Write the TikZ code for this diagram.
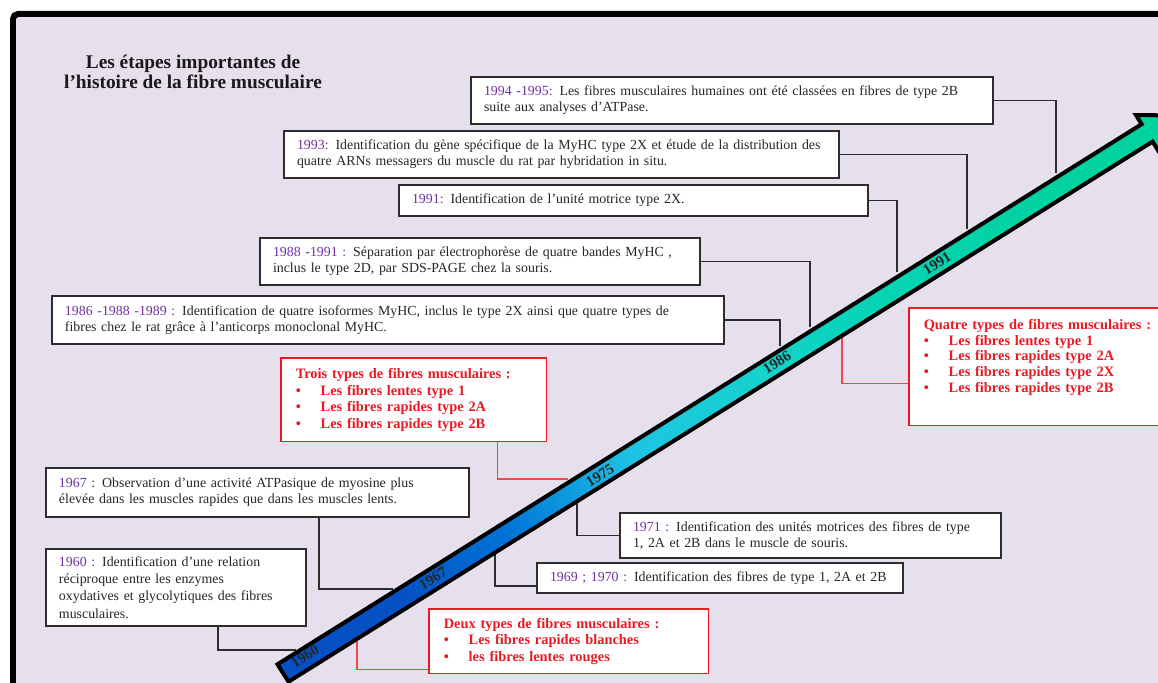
\documentclass[tikz,border=0pt]{standalone}
\usepackage{fontspec}
\setmainfont{Liberation Serif}

\definecolor{lavande}{RGB}{230,224,237}
\definecolor{yearviolet}{RGB}{112,48,160}
\definecolor{boxline}{RGB}{45,45,45}
\definecolor{fibrered}{RGB}{235,25,35}
\definecolor{tlblue}{RGB}{5,80,195}
\definecolor{tlmid}{RGB}{0,118,215}
\definecolor{tlcyan}{RGB}{30,196,228}
\definecolor{tlaqua}{RGB}{20,210,205}
\definecolor{tlteal}{RGB}{5,212,180}
\definecolor{tlgreen}{RGB}{0,210,160}

\pgfdeclarehorizontalshading{timeline}{100bp}{color(0bp)=(tlblue); color(25bp)=(tlblue); color(33.6bp)=(tlmid); color(42.9bp)=(tlcyan); color(52.7bp)=(tlaqua); color(61.5bp)=(tlteal); color(75bp)=(tlgreen); color(100bp)=(tlgreen)}

\begin{document}
\begin{tikzpicture}[x=0.02cm,y=-0.02cm]
                \tikzstyle{event}=[draw=boxline,line width=0.04cm,fill=white,anchor=north west,align=left,inner xsep=0.26cm,inner ysep=0pt,text=black!85,font=\fontsize{7.9}{9.2}\selectfont]
                \tikzstyle{fibres}=[draw=fibrered,line width=0.03cm,fill=white,anchor=north west,align=left,inner xsep=0.3cm,inner ysep=0pt,text=fibrered,font=\bfseries\fontsize{8.2}{9.4}\selectfont]
                \tikzstyle{year}=[rotate=32,text=black!85,font=\bfseries\fontsize{8.5}{10}\selectfont]
                \tikzstyle{link}=[draw=boxline,line width=0.035cm]
                \tikzstyle{redlink}=[draw=fibrered!80,line width=0.025cm]

                        \useasboundingbox (0,0) rectangle (1158,682);
                        \clip (0,0) rectangle (1158,682);
                        \draw[fill=lavande,line width=0.12cm,rounded corners=0.1cm] (13,14) rectangle (1200,720);

                        \node[font=\bfseries\fontsize{11}{11.4}\selectfont,align=center,text=black!90] (titre) at (193,72) {Les étapes importantes de\\l’histoire de la fibre musculaire};

                        \node[event,text width=9.92cm,minimum height=0.94cm] (E-1994) at (470,76) {\textcolor{yearviolet}{1994 -1995:} Les fibres musculaires humaines ont été classées en fibres de type 2B\\suite aux analyses d’ATPase.};
                        \node[event,text width=10.58cm,minimum height=0.94cm] (E-1993) at (283,130) {\textcolor{yearviolet}{1993:} Identification du gène spécifique de la MyHC type 2X et étude de la distribution des\\quatre ARNs messagers du muscle du rat par hybridation in situ.};
                        \node[event,text width=8.86cm,minimum height=0.62cm] (E-1991) at (398,184) {\textcolor{yearviolet}{1991:} Identification de l’unité motrice type 2X.};
                        \node[event,text width=8.28cm,minimum height=0.94cm] (E-1988) at (259,237) {\textcolor{yearviolet}{1988 -1991 :} Séparation par électrophorèse de quatre bandes MyHC ,\\inclus le type 2D, par SDS-PAGE chez la souris.};
                        \node[event,text width=12.92cm,minimum height=0.96cm] (E-1986) at (51,295) {\textcolor{yearviolet}{1986 -1988 -1989 :} Identification de quatre isoformes MyHC, inclus le type 2X ainsi que quatre types de\\fibres chez le rat grâce à l’anticorps monoclonal MyHC.};
                        \node[event,text width=7.94cm,minimum height=0.98cm] (E-1967) at (45,467) {\textcolor{yearviolet}{1967} : Observation d’une activité ATPasique de myosine plus\\élevée dans les muscles rapides que dans les muscles lents.};
                        \node[event,text width=4.68cm,minimum height=1.54cm,font=\fontsize{7.9}{9.8}\selectfont] (E-1960) at (45,548) {\textcolor{yearviolet}{1960 :} Identification d’une relation\\réciproque entre les enzymes\\oxydatives et glycolytiques des fibres\\musculaires.};
                        \node[event,text width=7.10cm,minimum height=0.90cm] (E-1971) at (619,512) {\textcolor{yearviolet}{1971 :} Identification des unités motrices des fibres de type\\1, 2A et 2B dans le muscle de souris.};
                        \node[event,text width=6.80cm,minimum height=0.60cm] (E-1969) at (536,562) {\textcolor{yearviolet}{1969 ; 1970 :} Identification des fibres de type 1, 2A et 2B};

                        \node[fibres,text width=4.72cm,minimum height=1.68cm] (T-3) at (280,357) {Trois types de fibres musculaires :\\\makebox[0.5cm][l]{\textbullet}Les fibres lentes type 1\\\makebox[0.5cm][l]{\textbullet}Les fibres rapides type 2A\\\makebox[0.5cm][l]{\textbullet}Les fibres rapides type 2B};
                        \node[fibres,text width=4.64cm,minimum height=2.36cm,font=\bfseries\fontsize{8.2}{9}\selectfont] (T-4) at (908,307) {Quatre types de fibres musculaires :\\\makebox[0.5cm][l]{\textbullet}Les fibres lentes type 1\\\makebox[0.5cm][l]{\textbullet}Les fibres rapides type 2A\\\makebox[0.5cm][l]{\textbullet}Les fibres rapides type 2X\\\makebox[0.5cm][l]{\textbullet}Les fibres rapides type 2B\rule[-0.44cm]{0pt}{0pt}};
                        \node[fibres,text width=5.0cm,minimum height=1.30cm] (T-2) at (428,608) {Deux types de fibres musculaires :\\\makebox[0.5cm][l]{\textbullet}Les fibres rapides blanches\\\makebox[0.5cm][l]{\textbullet}les fibres lentes rouges};

                        \coordinate (F-1994) at (1056,173);
                        \coordinate (F-1993) at (967,229);
                        \coordinate (F-1991) at (897,272);
                        \coordinate (F-1988) at (810,327);
                        \coordinate (F-1986) at (780,346);
                        \coordinate (F-1975) at (568,479);
                        \coordinate (F-1967) at (393,589);
                        \coordinate (F-1960) at (296,650);
                        \coordinate (F-1971) at (577,502);
                        \coordinate (F-1969) at (495,553);
                        \coordinate (F-4t) at (842,336);
                        \coordinate (F-2t) at (357,639);

                    \foreach \ev in {1994, 1993, 1991, 1988, 1986}
                        \draw[link] (E-\ev.east) -| (F-\ev);
                        \draw[link] ([xshift=1.23cm]E-1967.south) |- (F-1967);
                        \draw[link] ([xshift=0.84cm]E-1960.south) |- (F-1960);
                        \draw[link] (E-1971.west) -| (F-1971);
                        \draw[link] ([yshift=-0.16cm]E-1969.west) -| (F-1969);
                        \draw[redlink] ([xshift=-1cm]T-3.south east) |- (F-1975);
                        \draw[redlink] ([yshift=-0.34cm]T-4.west) -| (F-4t);
                        \draw[redlink] ([yshift=0.1cm]T-2.south west) -| (F-2t);

                        \shadedraw[shading=timeline,shading angle=32,draw=black,line width=0.08cm,line join=miter]
                            (277.5,664.3) -- (1141.6,124.2) -- (1136.0,115.1) -- (1175.1,115.4) -- (1158.2,150.7) -- (1152.6,141.6) -- (288.5,681.7) -- cycle;

                    \foreach \yr/\px/\py in {1960/305/656, 1967/433/578, 1975/600/475, 1986/777/362, 1991/937/263}
                        \node[year] (Y-\yr) at (\px, \py) {\yr};
            \end{tikzpicture}
\end{document}
